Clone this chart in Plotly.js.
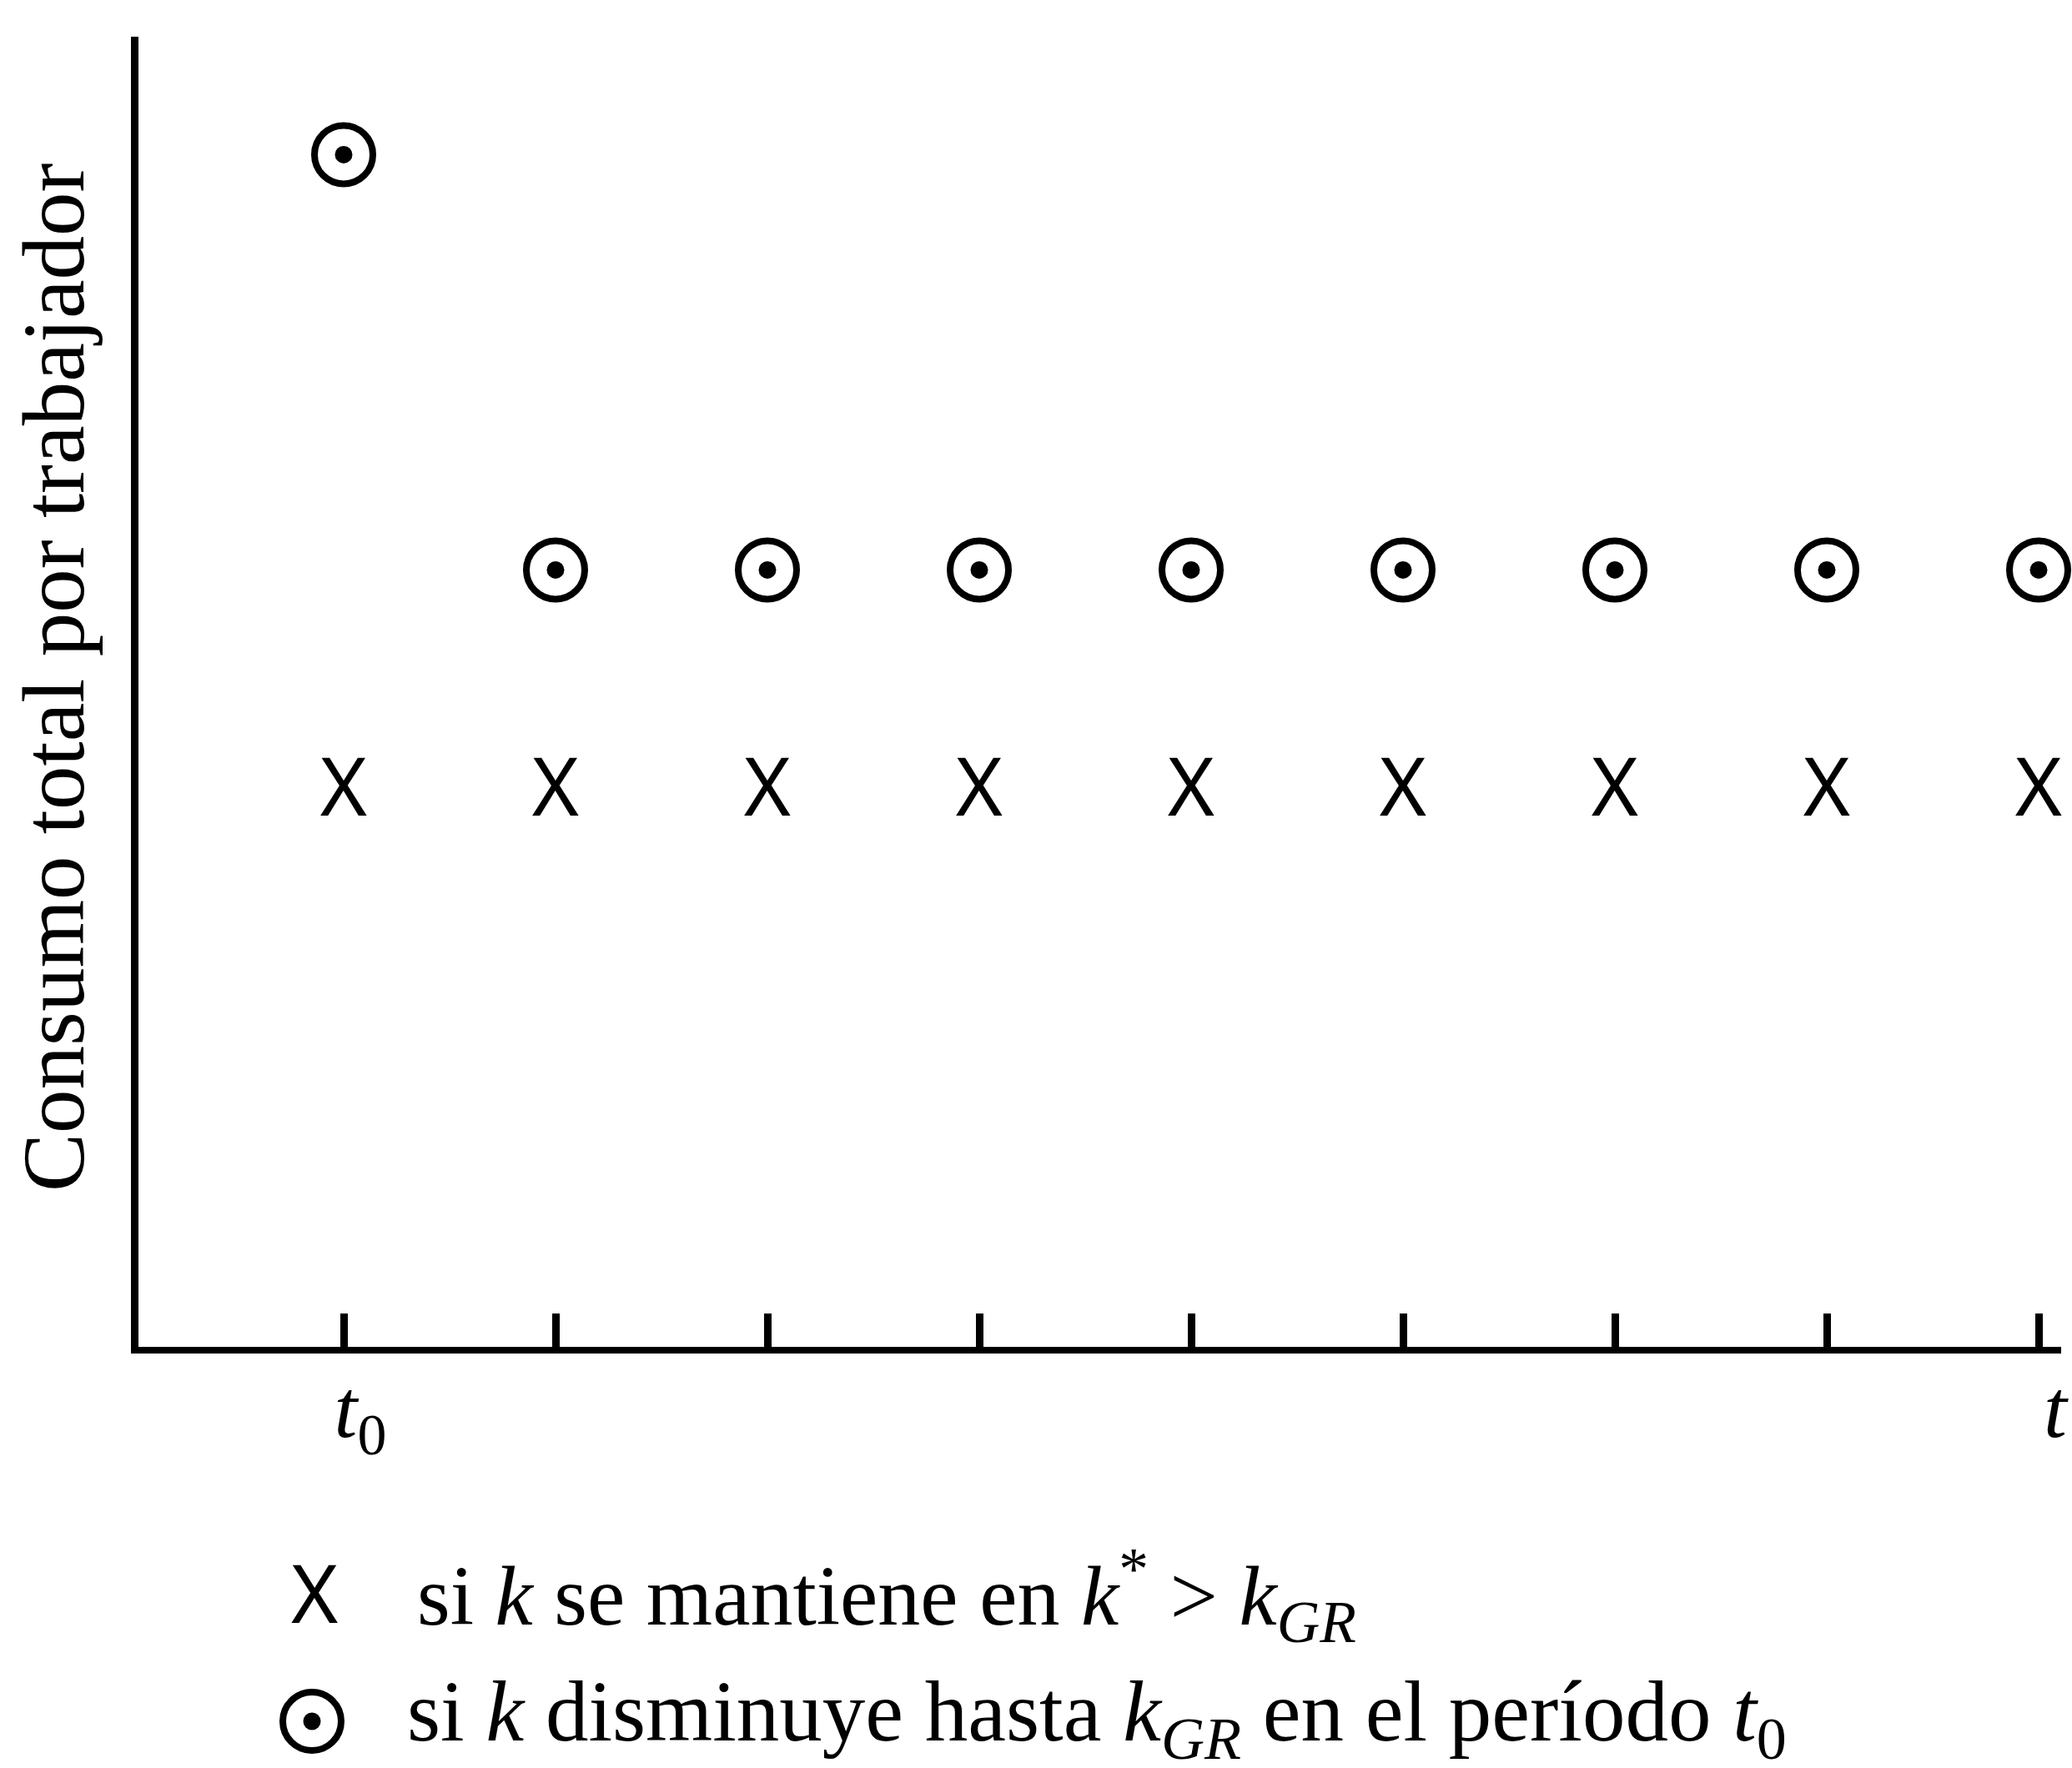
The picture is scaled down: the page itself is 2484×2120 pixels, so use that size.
<!DOCTYPE html>
<html>
<head>
<meta charset="utf-8">
<script src="https://cdn.plot.ly/plotly-3.0.1.min.js"></script>
<style>
  html, body { margin: 0; padding: 0; background: #ffffff; }
  #chart { width: 2484px; height: 2120px; }
</style>
</head>
<body>
<div id="chart"></div>
<script>
// Periods along the time axis (t0 ... t)
const periodos = [0, 1, 2, 3, 4, 5, 6, 7, 8];
const etiquetasPeriodo = ['<i>t</i><sub>0</sub>', ' ', ' ', ' ', ' ', ' ', ' ', ' ', '<i>t</i>'];

// Consumption per worker if k stays at k* > k_GR
const consumoKEstrella = [4.21, 4.21, 4.21, 4.21, 4.21, 4.21, 4.21, 4.21, 4.21];
// Consumption per worker if k falls to k_GR in period t0
const consumoKGR = [9.10, 5.93, 5.93, 5.93, 5.93, 5.93, 5.93, 5.93, 5.93];

const W = 2484, H = 2120;
const M = { l: 166, r: 13, t: 44, b: 505 };
const plotW = W - M.l - M.r, plotH = H - M.t - M.b;
// helpers to place legend pieces in paper units from pixel positions
const px = x => (x - M.l) / plotW;
const py = y => (H - M.b - y) / plotH;

const serif = 'Liberation Serif, Times New Roman, serif';
const sans = 'Noto Sans, DejaVu Sans, sans-serif';

const traces = [
  {
    x: periodos, y: consumoKEstrella,
    type: 'scatter', mode: 'text', text: periodos.map(() => 'X'),
    textposition: 'middle center',
    textfont: { family: sans, size: 96, color: '#000' },
    cliponaxis: false, hoverinfo: 'skip', showlegend: false
  },
  {
    x: periodos, y: consumoKGR,
    type: 'scatter', mode: 'markers',
    marker: { symbol: 'circle-open', size: 70, color: '#000', line: { width: 8, color: '#000' } },
    cliponaxis: false, hoverinfo: 'skip', showlegend: false
  },
  {
    x: periodos, y: consumoKGR,
    type: 'scatter', mode: 'markers',
    marker: { symbol: 'circle', size: 21, color: '#000', line: { width: 0 } },
    cliponaxis: false, hoverinfo: 'skip', showlegend: false
  }
];

const layout = {
  width: W, height: H,
  margin: M,
  paper_bgcolor: '#ffffff', plot_bgcolor: '#ffffff',
  showlegend: false,
  xaxis: {
    range: [(M.l - 412) / 254, (W - M.r - 412) / 254],
    showgrid: false, zeroline: false,
    showline: true, linecolor: '#000', linewidth: 8,
    tickmode: 'array', tickvals: periodos, ticktext: etiquetasPeriodo,
    ticks: 'inside', ticklen: 40, tickwidth: 9, tickcolor: '#000',
    tickfont: { family: serif, size: 100, color: '#000' },
    ticklabelstandoff: -20,
    ticklabelshift: 20
  },
  yaxis: {
    range: [0, 10],
    showgrid: false, zeroline: false,
    showline: true, linecolor: '#000', linewidth: 9,
    ticks: '', showticklabels: false
  },
  shapes: [
    { type: 'circle', xref: 'paper', yref: 'paper', xsizemode: 'pixel', ysizemode: 'pixel',
      xanchor: px(374), yanchor: py(2064), x0: -35, x1: 35, y0: -35, y1: 35,
      line: { color: '#000', width: 8 } },
    { type: 'circle', xref: 'paper', yref: 'paper', xsizemode: 'pixel', ysizemode: 'pixel',
      xanchor: px(374), yanchor: py(2064), x0: -10.5, x1: 10.5, y0: -10.5, y1: 10.5,
      fillcolor: '#000', line: { width: 0 } }
  ],
  annotations: [
    // vertical axis label
    { xref: 'paper', yref: 'paper', x: px(64), y: py(812), xanchor: 'center', yanchor: 'middle',
      textangle: -90, text: 'Consumo total por trabajador', showarrow: false,
      font: { family: serif, size: 105, color: '#000' } },
    // legend
    { xref: 'paper', yref: 'paper', x: px(377), y: py(1909), xanchor: 'center', yanchor: 'middle',
      text: 'X', showarrow: false, font: { family: sans, size: 96, color: '#000' } },
    { xref: 'paper', yref: 'paper', x: px(498), y: py(1912), xanchor: 'left', yanchor: 'middle',
      text: 'si <i>k</i> se mantiene en <i>k</i><sup>*</sup> > <i>k</i><sub><i>GR</i></sub>',
      showarrow: false, font: { family: serif, size: 102, color: '#000' } },
    { xref: 'paper', yref: 'paper', x: px(486), y: py(2060), xanchor: 'left', yanchor: 'middle',
      text: 'si <i>k</i> disminuye hasta <i>k</i><sub><i>GR</i></sub> en el período <i>t</i><sub>0</sub>',
      showarrow: false, font: { family: serif, size: 103, color: '#000' } }
  ]
};

Plotly.newPlot('chart', traces, layout, { staticPlot: true, displayModeBar: false });
</script>
</body>
</html>
